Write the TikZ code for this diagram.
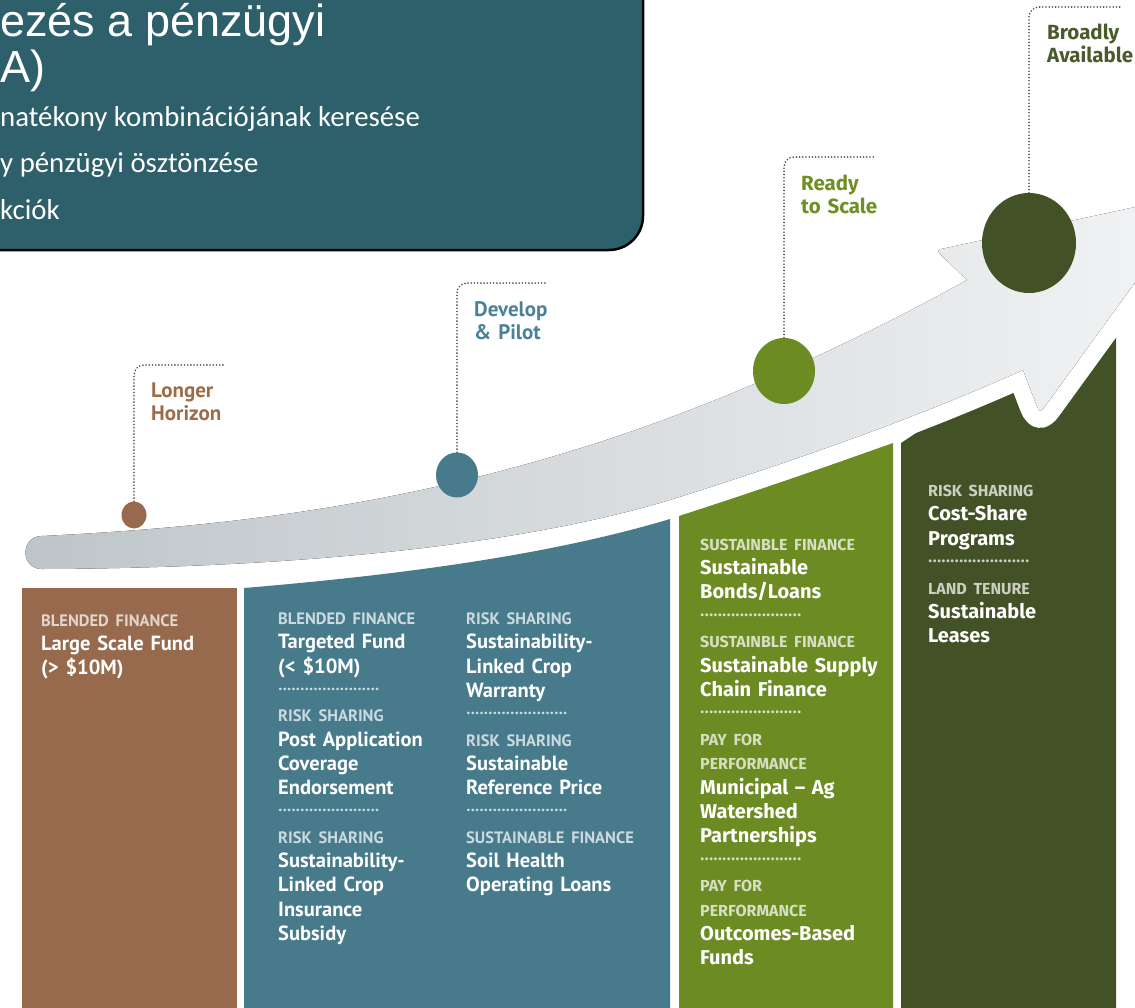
\documentclass[tikz,border=0pt]{standalone}
\usepackage{fontspec}
\usetikzlibrary{shapes.geometric}

\newfontfamily\boxtitlefont{Liberation Sans}
\newfontfamily\boxbulletfont{Carlito}
\newfontfamily\narrowfont{PT Sans}
\newfontfamily\widefont{Fira Sans}

\newlength{\du}
\setlength{\du}{1pt}

\definecolor{boxteal}{RGB}{45,96,106}
\definecolor{colbrown}{RGB}{151,106,77}
\definecolor{colteal}{RGB}{71,123,140}
\definecolor{colgreen}{RGB}{108,139,35}
\definecolor{coldark}{RGB}{67,82,38}
\definecolor{arrowdark}{RGB}{190,197,201}
\definecolor{arrowlight}{RGB}{243,244,245}
\definecolor{leadgrey}{RGB}{75,75,75}
\definecolor{txtbrown}{RGB}{156,108,72}
\definecolor{txtteal}{RGB}{74,129,153}
\definecolor{txtgreen}{RGB}{110,143,34}
\definecolor{txtdark}{RGB}{74,90,42}
\colorlet{catcol}{white}

% small grey headings and dotted rows in the columns
\newcommand{\ncat}[1]{{\color{catcol}\narrowfont\bfseries\fontsize{16.5}{24.3}\selectfont #1}}
\newcommand{\wcat}[1]{{\color{catcol}\widefont\bfseries\fontsize{16}{24.4}\selectfont #1}}
\newcommand{\dotrow}{\raisebox{7\du}{\hbox to 102\du{\leaders\hbox to 4.4\du{\hss.\hss}\hfill}}}
\newcommand{\nsep}{{\color{catcol}\narrowfont\fontsize{16.5}{24.3}\selectfont\dotrow}}
\newcommand{\wsep}{{\color{catcol}\widefont\fontsize{16}{24.4}\selectfont\dotrow}}

\tikzset{
  stagedot/.style={ellipse, inner sep=0pt, draw=none, fill=#1},
  leader/.style={draw=leadgrey, line width=1.8\du, dash pattern=on 0pt off 3.2\du, line cap=round, rounded corners=10\du},
  stagelabel/.style={anchor=base west, inner sep=0pt, text width=130\du, align=left},
  narrowlabel/.style={stagelabel, font=\narrowfont\bfseries\fontsize{21}{23.8}\selectfont},
  widelabel/.style={stagelabel, font=\widefont\bfseries\fontsize{20.5}{23.4}\selectfont},
  coltext/.style={anchor=base west, inner sep=0pt, text width=210\du, align=left, text=white,
    execute at begin node={\colorlet{catcol}{white!72!#1}}},
  narrowcol/.style={coltext=#1, font=\narrowfont\bfseries\fontsize{20.5}{24.3}\selectfont},
  widecol/.style={coltext=#1, font=\widefont\bfseries\fontsize{20}{24.4}\selectfont},
  boxtitle/.style={anchor=base west, inner sep=0pt, text=white, font=\boxtitlefont\fontsize{45}{50}\selectfont},
  boxbullet/.style={anchor=base west, inner sep=0pt, text=white, font=\boxbulletfont\fontsize{28.8}{34}\selectfont}
}

\begin{document}
\begin{tikzpicture}
\pgftransformxscale{1.000000}
\pgftransformyscale{-1.000000}
\useasboundingbox (0\du,0\du) rectangle (1135\du,1007\du);
\clip (0\du,0\du) rectangle (1135\du,1007\du);

% box top left
\draw[line width=2.5\du, fill=boxteal, rounded corners=34\du] (-40\du,-40\du) rectangle (643\du,250\du);
\node[boxtitle] (title1) at (0\du,36\du) {ezés a pénzügyi};
\node[boxtitle] (title2) at (0\du,82\du) {A)};
\node[boxbullet] (bullet1) at (0\du,126\du) {natékony kombinációjának keresése};
\node[boxbullet] (bullet2) at (0\du,172\du) {y pénzügyi ösztönzése};
\node[boxbullet] (bullet3) at (0\du,219\du) {kciók};

% columns
\fill[colbrown] (22\du,588\du) -- (237\du,588\du) -- (237\du,1010\du) -- (22\du,1010\du) -- cycle;
\fill[colteal] (244\du,588\du) .. controls (400\du,575\du) and (550\du,555\du) .. (670\du,519\du)
  -- (670\du,1010\du) -- (244\du,1010\du) -- cycle;
\fill[colgreen] (679\du,516\du) .. controls (750\du,493\du) and (820\du,469\du) .. (893\du,443\du)
  -- (893\du,1010\du) -- (679\du,1010\du) -- cycle;
\fill[coldark] (901\du,443\du) -- (1116\du,300\du) -- (1116\du,1010\du) -- (901\du,1010\du) -- cycle;

% the arrow, white edge cut into the columns
\fill[left color=arrowdark, right color=arrowlight,
      preaction={draw=white, line width=34\du, line join=round}]
  (42\du,569\du) .. controls (20\du,569\du) and (20\du,536\du) .. (42\du,536\du)
  .. controls (250\du,526\du) and (420\du,500\du) .. (600\du,442\du)
  .. controls (720\du,403\du) and (850\du,345\du) .. (967\du,280\du)
  -- (943\du,257\du) .. controls (936\du,250\du) .. (946\du,248\du)
  -- (1200\du,193\du)
  -- (1046\du,405\du) .. controls (1040\du,413\du) .. (1036\du,404\du)
  -- (1023\du,370\du)
  .. controls (900\du,425\du) and (780\du,465\du) .. (670\du,500\du)
  .. controls (520\du,545\du) and (300\du,568\du) .. (42\du,569\du) -- cycle;

% dots
\node[stagedot=colbrown, minimum width=25\du, minimum height=27\du] (lhdot) at (134\du,515\du) {};
\node[stagedot=colteal, minimum width=42\du, minimum height=45\du] (dpdot) at (457\du,475\du) {};
\node[stagedot=colgreen, minimum width=62\du, minimum height=66\du] (rsdot) at (784\du,371\du) {};
\node[stagedot=coldark, minimum width=94\du, minimum height=100\du] (badot) at (1029\du,243\du) {};

\coordinate (lhend) at (225\du,365\du);
\coordinate (dpend) at (548\du,283\du);
\coordinate (rsend) at (876\du,157\du);
\coordinate (baend) at (1122\du,7\du);
\draw[leader] (lhdot.north) |- (lhend);
\draw[leader] (dpdot.north) |- (dpend);
\draw[leader] (rsdot.north) |- (rsend);
\draw[leader] (badot.north) |- (baend);

\node[narrowlabel, text=txtbrown] (lhlabel) at (151\du,397\du) {Longer\\Horizon};
\node[narrowlabel, text=txtteal] (dplabel) at (474\du,316\du) {Develop\\\& Pilot};
\node[widelabel, text=txtgreen] (rslabel) at (801\du,190\du) {Ready\\to Scale};
\node[widelabel, text=txtdark] (balabel) at (1047\du,39\du) {Broadly\\Available};

% column texts
\node[narrowcol=colbrown] (browntext) at (41\du,626\du)
  {\ncat{BLENDED FINANCE}\\Large Scale Fund\\(> \$10M)};
\node[narrowcol=colteal] (teallefttext) at (278\du,624.5\du)
  {\ncat{BLENDED FINANCE}\\Targeted Fund\\(< \$10M)\\\nsep\\
   \ncat{RISK SHARING}\\Post Application\\Coverage\\Endorsement\\\nsep\\
   \ncat{RISK SHARING}\\Sustainability-\\Linked Crop\\Insurance\\Subsidy};
\node[narrowcol=colteal] (tealrighttext) at (466\du,624.5\du)
  {\ncat{RISK SHARING}\\Sustainability-\\Linked Crop\\Warranty\\\nsep\\
   \ncat{RISK SHARING}\\Sustainable\\Reference Price\\\nsep\\
   \ncat{SUSTAINABLE FINANCE}\\Soil Health\\Operating Loans};
\node[widecol=colgreen] (greentext) at (700\du,550\du)
  {\wcat{SUSTAINBLE FINANCE}\\Sustainable\\Bonds/Loans\\\wsep\\
   \wcat{SUSTAINBLE FINANCE}\\Sustainable Supply\\Chain Finance\\\wsep\\
   \wcat{PAY FOR}\\\wcat{PERFORMANCE}\\Municipal – Ag\\Watershed\\Partnerships\\\wsep\\
   \wcat{PAY FOR}\\\wcat{PERFORMANCE}\\Outcomes-Based\\Funds};
\node[widecol=coldark] (darktext) at (928\du,496.4\du)
  {\wcat{RISK SHARING}\\Cost-Share\\Programs\\\wsep\\
   \wcat{LAND TENURE}\\Sustainable\\Leases};
\end{tikzpicture}
\end{document}
